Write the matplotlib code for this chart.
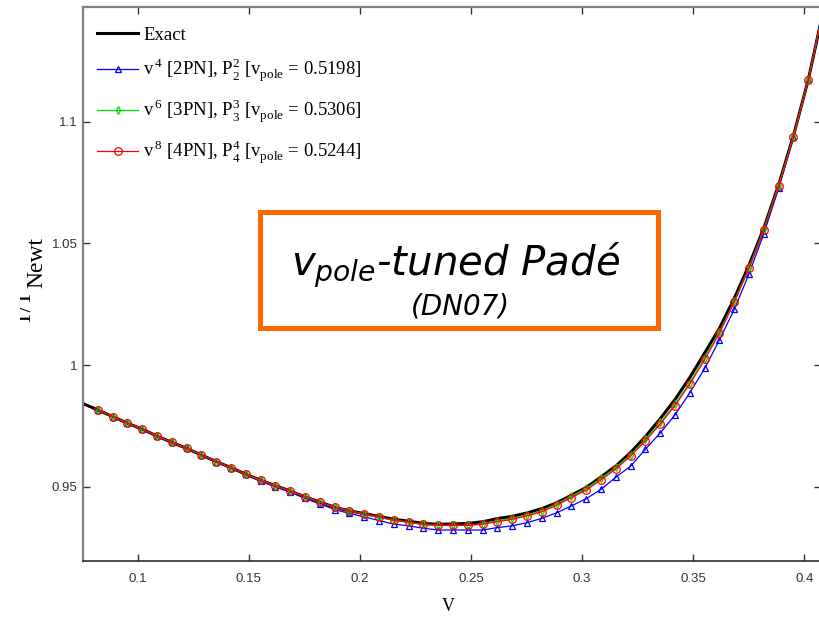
import matplotlib
matplotlib.use("Agg")
import matplotlib.pyplot as plt
import matplotlib.patches as mpatches
from matplotlib.transforms import Bbox, TransformedBbox

# sample points (v) shared by the Pade curves
v = [0.0821, 0.0888, 0.0954, 0.1021, 0.1087, 0.1154, 0.1221, 0.1287, 0.1354, 0.1420,
     0.1487, 0.1554, 0.1620, 0.1687, 0.1753, 0.1820, 0.1887, 0.1953, 0.2020, 0.2086,
     0.2153, 0.2220, 0.2286, 0.2353, 0.2419, 0.2486, 0.2553, 0.2619, 0.2686, 0.2752,
     0.2819, 0.2886, 0.2952, 0.3019, 0.3085, 0.3152, 0.3219, 0.3285, 0.3352, 0.3418,
     0.3485, 0.3552, 0.3618, 0.3685, 0.3751, 0.3818, 0.3885, 0.3951, 0.4018, 0.4084]

v_exact = [0.0750, 0.0821, 0.0888, 0.0954, 0.1021, 0.1087, 0.1154, 0.1221, 0.1287, 0.1354,
           0.1420, 0.1487, 0.1554, 0.1620, 0.1687, 0.1753, 0.1820, 0.1887, 0.1953, 0.2020,
           0.2086, 0.2153, 0.2220, 0.2286, 0.2353, 0.2419, 0.2486, 0.2553, 0.2619, 0.2686,
           0.2752, 0.2819, 0.2886, 0.2952, 0.3019, 0.3085, 0.3152, 0.3219, 0.3285, 0.3352,
           0.3418, 0.3485, 0.3552, 0.3618, 0.3685, 0.3751, 0.3818, 0.3885, 0.3951, 0.4018,
           0.4084]

exact = [0.9843, 0.9815, 0.9788, 0.9761, 0.9736, 0.9708, 0.9682, 0.9657, 0.9630, 0.9603,
         0.9578, 0.9551, 0.9526, 0.9504, 0.9482, 0.9458, 0.9437, 0.9415, 0.9401, 0.9389,
         0.9378, 0.9366, 0.9358, 0.9349, 0.9345, 0.9347, 0.9349, 0.9356, 0.9369, 0.9378,
         0.9392, 0.9410, 0.9434, 0.9465, 0.9497, 0.9540, 0.9585, 0.9641, 0.9706, 0.9780,
         0.9858, 0.9949, 1.0050, 1.0151, 1.0274, 1.0410, 1.0563, 1.0742, 1.0942, 1.1173,
         1.1450]

pade_2pn = [0.9815, 0.9788, 0.9761, 0.9736, 0.9708, 0.9682, 0.9657, 0.9630, 0.9603, 0.9578,
            0.9551, 0.9522, 0.9499, 0.9477, 0.9452, 0.9429, 0.9406, 0.9390, 0.9376, 0.9361,
            0.9346, 0.9339, 0.9329, 0.9322, 0.9322, 0.9322, 0.9322, 0.9332, 0.9339, 0.9352,
            0.9370, 0.9393, 0.9421, 0.9451, 0.9489, 0.9539, 0.9585, 0.9654, 0.9721, 0.9795,
            0.9886, 0.9986, 1.0103, 1.0229, 1.0374, 1.0540, 1.0727, 1.0937, 1.1175, 1.1459]

pade_3pn = [0.9815, 0.9788, 0.9761, 0.9736, 0.9708, 0.9682, 0.9657, 0.9630, 0.9603, 0.9578,
            0.9551, 0.9526, 0.9504, 0.9482, 0.9458, 0.9437, 0.9415, 0.9401, 0.9387, 0.9376,
            0.9362, 0.9354, 0.9345, 0.9341, 0.9341, 0.9341, 0.9348, 0.9360, 0.9370, 0.9384,
            0.9401, 0.9430, 0.9461, 0.9493, 0.9534, 0.9579, 0.9632, 0.9694, 0.9764, 0.9839,
            0.9928, 1.0030, 1.0136, 1.0262, 1.0401, 1.0559, 1.0740, 1.0940, 1.1173, 1.1452]

pade_4pn = [0.9815, 0.9788, 0.9761, 0.9736, 0.9708, 0.9682, 0.9657, 0.9630, 0.9603, 0.9578,
            0.9551, 0.9526, 0.9504, 0.9482, 0.9458, 0.9437, 0.9415, 0.9401, 0.9387, 0.9376,
            0.9362, 0.9354, 0.9345, 0.9341, 0.9341, 0.9341, 0.9346, 0.9356, 0.9366, 0.9380,
            0.9397, 0.9424, 0.9455, 0.9486, 0.9528, 0.9573, 0.9626, 0.9688, 0.9758, 0.9833,
            0.9922, 1.0023, 1.0130, 1.0258, 1.0397, 1.0555, 1.0735, 1.0938, 1.1171, 1.1450]

labels = [
    "Exact",
    r"$\mathrm{v}^{\,4}$ [2PN], $\mathrm{P}_{2}^{2}$ [$\mathrm{v}_{\mathrm{pole}}$ = 0.5198]",
    r"$\mathrm{v}^{\,6}$ [3PN], $\mathrm{P}_{3}^{3}$ [$\mathrm{v}_{\mathrm{pole}}$ = 0.5306]",
    r"$\mathrm{v}^{\,8}$ [4PN], $\mathrm{P}_{4}^{4}$ [$\mathrm{v}_{\mathrm{pole}}$ = 0.5244]",
]

xticks = [0.1, 0.15, 0.2, 0.25, 0.3, 0.35, 0.4]
xticklabels = ["0.1", "0.15", "0.2", "0.25", "0.3", "0.35", "0.4"]
yticks = [0.95, 1.0, 1.05, 1.1]
yticklabels = ["0.95", "1", "1.05", "1.1"]

plt.rcParams["font.family"] = "Liberation Sans"
plt.rcParams["mathtext.fontset"] = "custom"
plt.rcParams["mathtext.rm"] = "Liberation Serif"
plt.rcParams["mathtext.it"] = "DejaVu Sans:italic"

W, H = 820, 619
fig = plt.figure(figsize=(W / 100, H / 100), dpi=100)
ax = fig.add_axes([83 / W, 58 / H, 738 / W, 554 / H])

ax.plot(v_exact, exact, color="black", lw=2.2, label=labels[0])
ax.plot(v, pade_2pn, color="#0000FF", lw=0.9, marker="^", ms=5, mfc="none",
        mew=0.9, label=labels[1])
ax.plot(v, pade_3pn, color="#00E000", lw=0.9, marker="d", ms=4, mfc="none",
        mew=0.9, label=labels[2])
ax.plot(v, pade_4pn, color="#FF0000", lw=0.9, marker="o", ms=5.5, mfc="none",
        mew=0.9, label=labels[3])

ax.set_xlim(0.07538, 0.40752)
ax.set_ylim(0.91946, 1.14714)
ax.set_xticks(xticks)
ax.set_xticklabels(xticklabels)
ax.set_yticks(yticks)
ax.set_yticklabels(yticklabels)
ax.tick_params(direction="in", length=5, width=1, top=True, right=True,
               colors="#333333", labelsize=9.5)
ax.tick_params(axis="x", pad=8.5)
ax.tick_params(axis="y", pad=4)

ax.spines["left"].set_color("#808080")
ax.spines["left"].set_linewidth(1.6)
ax.spines["top"].set_color("#808080")
ax.spines["top"].set_linewidth(1.6)
ax.spines["bottom"].set_color("#303030")
ax.spines["bottom"].set_linewidth(1.2)
ax.spines["right"].set_color("#303030")

ax.set_xlabel("V", family="Liberation Serif", fontsize=13)
ax.xaxis.set_label_coords(0.4946, -0.0668)

leg = ax.legend(loc="upper left", bbox_to_anchor=(0.019, 0.965), frameon=False,
                prop={"family": "Liberation Serif", "size": 13.5},
                handlelength=2.2, handletextpad=0.25, labelspacing=0.72,
                borderaxespad=0, borderpad=0)

# y label drawn as two pieces, main part cut off at the left like the original
t1 = fig.text(31 / W, 1 - 325 / H, "T/T", rotation=90, rotation_mode="anchor",
              ha="left", va="baseline", family="Liberation Serif", fontsize=17)
t1.set_clip_box(TransformedBbox(Bbox([[20 / W, 0], [1, 1]]), fig.transFigure))
fig.text(42.5 / W, 1 - 288 / H, "Newt", rotation=90, rotation_mode="anchor",
         ha="left", va="baseline", family="Liberation Serif", fontsize=17)

# annotation box
fig.add_artist(mpatches.Rectangle((260 / W, 1 - 328 / H), 398 / W, 116 / H,
                                  transform=fig.transFigure, fill=False,
                                  ec="#FF6600", lw=3.6))
fig.text(455.5 / W, 1 - 276 / H, r"$\mathit{v}_{\mathit{pole}}$-tuned Padé",
         ha="center", va="baseline", fontsize=29, fontstyle="italic",
         family="DejaVu Sans")
fig.text(460 / W, 1 - 306 / H, "(DN07)", ha="center", va="center",
         fontsize=20, fontstyle="italic", family="DejaVu Sans")

fig.savefig("out.png", dpi=100)
plt.close(fig)
